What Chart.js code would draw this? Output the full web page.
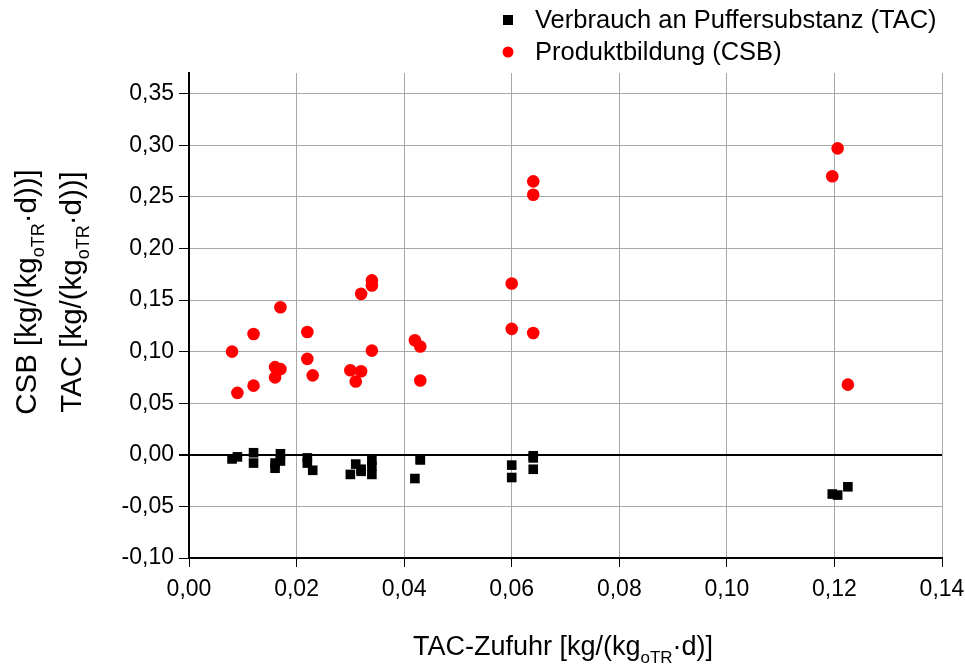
<!DOCTYPE html>
<html lang="de">
  <head>
    <meta charset="UTF-8" />
    <title>TAC-Zufuhr</title>
    <script src="https://cdn.jsdelivr.net/npm/chart.js@4.4.1/dist/chart.umd.min.js"></script>
    <style>
      body { margin: 0; background: #fff; }
    </style>
  </head>
  <body>
    <canvas id="myChart" width="965" height="665"></canvas>
    <script>
      // TAC-Zufuhr (x) mit jeweils Verbrauch (TAC) und Produktbildung (CSB)
      const feedRate = [
        0.008, 0.009, 0.012, 0.012, 0.017, 0.016, 0.017, 0.016,
        0.022, 0.022, 0.023, 0.030, 0.031, 0.032, 0.032, 0.034,
        0.034, 0.034, 0.042, 0.043, 0.043, 0.060, 0.060, 0.064,
        0.064, 0.064, 0.1196, 0.1206, 0.1225
      ];
      const tacUse = [
        -0.004, -0.002, 0.002, -0.008, 0.001, -0.008, -0.006, -0.013,
        -0.003, -0.008, -0.015, -0.019, -0.009, -0.014, -0.016, -0.005,
        -0.011, -0.019, -0.023, -0.004, -0.005, -0.010, -0.022, -0.001,
        -0.003, -0.014, -0.038, -0.039, -0.031
      ];
      const csbProd = [
        0.100, 0.060, 0.117, 0.067, 0.143, 0.085, 0.083, 0.075,
        0.119, 0.093, 0.077, 0.082, 0.071, 0.081, 0.156, 0.169,
        0.164, 0.101, 0.111, 0.105, 0.072, 0.166, 0.122, 0.265,
        0.252, 0.118, 0.270, 0.297, 0.068
      ];
      const xTicks = [0, 0.02, 0.04, 0.06, 0.08, 0.10, 0.12, 0.14];
      const yTicks = [-0.10, -0.05, 0, 0.05, 0.10, 0.15, 0.20, 0.25, 0.30, 0.35];

      const FONT = '"Liberation Sans", Arial, sans-serif';
      Chart.defaults.font.family = FONT;
      Chart.defaults.color = "#000";

      const fmt = (v) => Number(v).toFixed(2).replace(".", ",");
      const pts = (ys) => feedRate.map((x, i) => ({ x: x, y: ys[i] }));

      // text with a subscript part, e.g. kg_oTR
      function drawRich(ctx, parts, x, y, size) {
        const subSize = Math.round(size * 0.62);
        let total = 0;
        parts.forEach((p) => {
          ctx.font = (p.sub ? subSize : size) + "px " + FONT;
          p.w = ctx.measureText(p.t).width;
          total += p.w;
        });
        let cx = x - total / 2;
        parts.forEach((p) => {
          ctx.font = (p.sub ? subSize : size) + "px " + FONT;
          ctx.fillText(p.t, cx, p.sub ? y + size * 0.28 : y);
          cx += p.w;
        });
      }

      const extras = {
        id: "extras",
        afterDraw(chart) {
          const ctx = chart.ctx;
          ctx.save();
          ctx.fillStyle = "#000";
          ctx.textBaseline = "alphabetic";
          ctx.textAlign = "left";

          // x title
          drawRich(ctx, [
            { t: "TAC-Zufuhr [kg/(kg" },
            { t: "oTR", sub: true },
            { t: "\u00b7d)]" }
          ], 563, 655, 27);

          // y title, two lines
          ctx.save();
          ctx.rotate(-Math.PI / 2);
          drawRich(ctx, [
            { t: "CSB [kg/(kg" },
            { t: "oTR", sub: true },
            { t: "\u00b7d))]" }
          ], -292, 36, 29.5);
          drawRich(ctx, [
            { t: "TAC [kg/(kg" },
            { t: "oTR", sub: true },
            { t: "\u00b7d))]" }
          ], -292, 81, 29.5);
          ctx.restore();

          // legend
          ctx.font = "25.5px " + FONT;
          ctx.textBaseline = "middle";
          const items = chart.data.datasets;
          items.forEach((ds, i) => {
            const ly = 20 + i * 32;
            ctx.fillStyle = ds.backgroundColor;
            if (ds.pointStyle === "rect") {
              ctx.fillRect(503, ly - 5, 10, 10);
            } else {
              ctx.beginPath();
              ctx.arc(508, ly, 5.5, 0, Math.PI * 2);
              ctx.fill();
            }
            ctx.fillStyle = "#000";
            ctx.fillText(ds.label, 535, ly + 1);
          });
          ctx.restore();
        }
      };

      const myChart = new Chart(document.getElementById("myChart"), {
        type: "scatter",
        data: {
          datasets: [
            {
              label: "Verbrauch an Puffersubstanz (TAC)",
              data: pts(tacUse),
              pointStyle: "rect",
              radius: 6.8,
              hoverRadius: 6.8,
              backgroundColor: "#000",
              borderWidth: 0
            },
            {
              label: "Produktbildung (CSB)",
              data: pts(csbProd),
              pointStyle: "circle",
              radius: 6.3,
              hoverRadius: 6.3,
              backgroundColor: "#ff0000",
              borderWidth: 0
            }
          ]
        },
        options: {
          responsive: false,
          animation: false,
          layout: { padding: { top: 73, right: 23, left: 0, bottom: 0 } },
          plugins: {
            legend: { display: false },
            tooltip: { enabled: false }
          },
          scales: {
            x: {
              type: "linear",
              min: 0,
              max: 0.14,
              afterBuildTicks: (s) => { s.ticks = xTicks.map((v) => ({ value: v })); },
              afterFit: (s) => {
                s.height = 107;
                s.paddingLeft = 0;
                s.paddingRight = 0;
              },
              ticks: { font: { size: 23 }, padding: 9, maxRotation: 0, callback: (v) => fmt(v) },
              grid: { color: "#a8a8a8", lineWidth: 1, tickLength: 9, tickColor: "#000" },
              border: { color: "#000", width: 2 }
            },
            y: {
              min: -0.10,
              max: 0.37,
              afterBuildTicks: (s) => { s.ticks = yTicks.map((v) => ({ value: v })); },
              afterFit: (s) => {
                s.width = 189;
                s.paddingTop = 0;
                s.paddingBottom = 0;
              },
              ticks: { font: { size: 23 }, padding: 5, callback: (v) => fmt(v) },
              grid: {
                color: (c) => (c.tick && c.tick.value === 0 ? "#000" : "#a8a8a8"),
                lineWidth: (c) => (c.tick && c.tick.value === 0 ? 2 : 1),
                tickLength: 10,
                tickColor: "#000"
              },
              border: { color: "#000", width: 2 }
            }
          }
        },
        plugins: [extras]
      });
    </script>
  </body>
</html>
